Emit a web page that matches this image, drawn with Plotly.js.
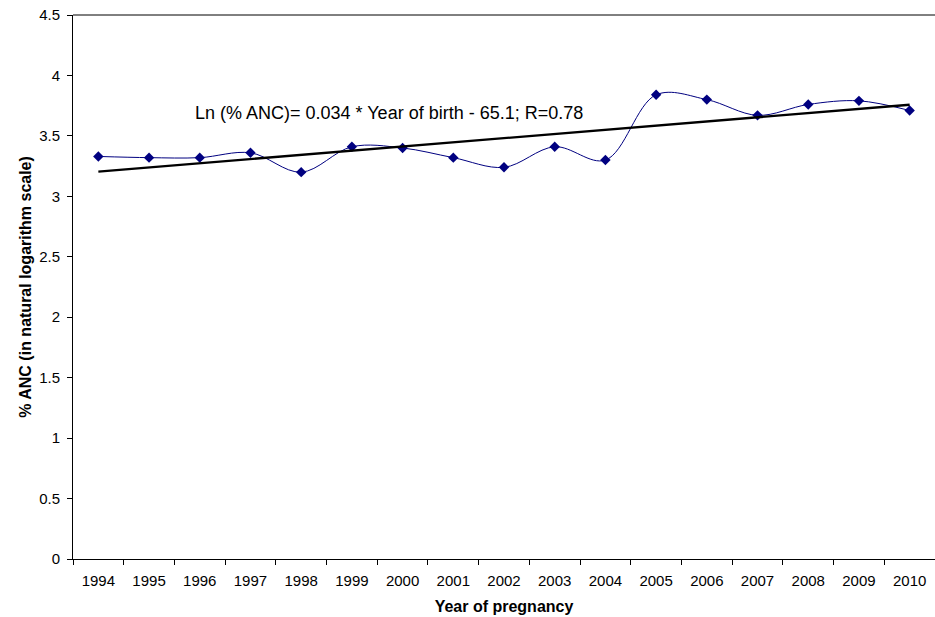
<!DOCTYPE html>
<html>
<head>
<meta charset="utf-8">
<script src="https://cdn.plot.ly/plotly-3.0.1.min.js"></script>
<style>html,body{margin:0;padding:0;background:#fff;}#chart{width:935px;height:617px;}</style>
</head>
<body>
<div id="chart"></div>
<script>
const years = ['1994','1995','1996','1997','1998','1999','2000','2001','2002','2003','2004','2005','2006','2007','2008','2009','2010'];
const lnANC = [3.33,3.32,3.32,3.36,3.20,3.41,3.40,3.32,3.24,3.41,3.30,3.84,3.80,3.67,3.76,3.79,3.71];
const yTicks = [0,0.5,1,1.5,2,2.5,3,3.5,4,4.5];
const yTickLabels = ['0','0.5','1','1.5','2','2.5','3','3.5','4','4.5'];
const equationText = 'Ln (% ANC)= 0.034 * Year of birth - 65.1; R=0.78';

// least-squares linear trend from the data
const n = lnANC.length;
const idx = lnANC.map((_, i) => i);
const mx = idx.reduce((a, b) => a + b, 0) / n;
const my = lnANC.reduce((a, b) => a + b, 0) / n;
let sxy = 0, sxx = 0;
idx.forEach((x, i) => { sxy += (x - mx) * (lnANC[i] - my); sxx += (x - mx) * (x - mx); });
const slope = sxy / sxx;
const icpt = my - slope * mx;
const trendX = [years[0], years[n - 1]];
const trendY = [icpt, icpt + slope * (n - 1)];

const font = 'Liberation Sans, Arial, sans-serif';

const data = [
  {
    x: years, y: lnANC, type: 'scatter', mode: 'lines+markers',
    line: {color: '#000080', width: 1, shape: 'spline', smoothing: 1},
    marker: {symbol: 'diamond', size: 8, color: '#000080'},
    showlegend: false
  },
  {
    x: trendX, y: trendY, type: 'scatter', mode: 'lines',
    line: {color: '#000000', width: 2.4}, hoverinfo: 'skip', showlegend: false
  }
];

const layout = {
  width: 935, height: 617,
  margin: {l: 73, r: 0, t: 15, b: 58},
  paper_bgcolor: '#ffffff', plot_bgcolor: '#ffffff',
  font: {family: font, size: 15, color: '#000000'},
  xaxis: {
    type: 'category', categoryorder: 'array', categoryarray: years, range: [-0.5, 16.5],
    tickson: 'boundaries', ticks: 'outside', ticklen: 5, tickwidth: 1, tickcolor: '#000',
    ticklabelstandoff: 8,
    showline: true, linecolor: '#000', linewidth: 1,
    showgrid: false, zeroline: false,
    tickfont: {family: font, size: 15},
    title: {text: '<b>Year of pregnancy</b>', font: {family: font, size: 16}, standoff: 12}
  },
  yaxis: {
    range: [0, 4.5], tickvals: yTicks, ticktext: yTickLabels,
    ticks: 'outside', ticklen: 5, tickwidth: 1, tickcolor: '#000',
    ticklabelstandoff: 4,
    showline: true, linecolor: '#000', linewidth: 1,
    showgrid: false, zeroline: false,
    tickfont: {family: font, size: 15},
    title: {text: '<b>% ANC (in natural logarithm scale)</b>', font: {family: font, size: 16}, standoff: 3}
  },
  shapes: [
    {type: 'line', xref: 'paper', yref: 'paper', x0: 0, x1: 1, y0: 1, y1: 1, line: {color: '#000', width: 1}}
  ],
  annotations: [
    {text: equationText, xref: 'paper', yref: 'y', x: (193 - 73) / 862, y: 3.69, xanchor: 'left', yanchor: 'middle',
     showarrow: false, font: {family: font, size: 18, color: '#000'}}
  ]
};

Plotly.newPlot('chart', data, layout, {displayModeBar: false, staticPlot: true});
</script>
</body>
</html>
